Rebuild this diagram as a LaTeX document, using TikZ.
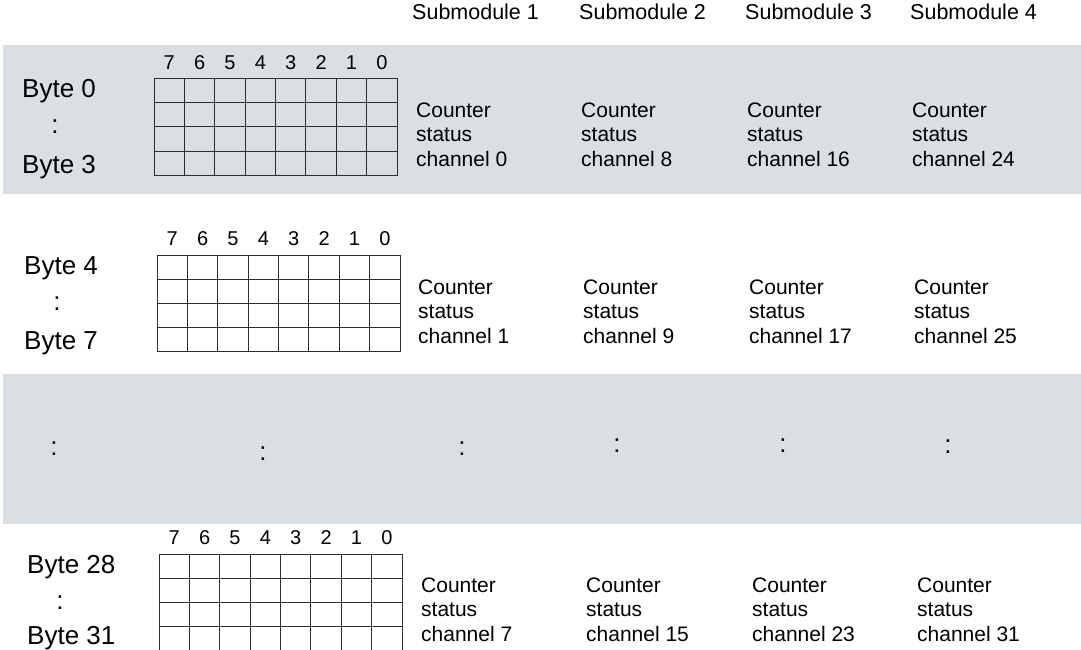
\documentclass[tikz,border=0pt]{standalone}
\usepackage{fontspec}
\setmainfont{Liberation Sans}
\usetikzlibrary{positioning}

\definecolor{bandgray}{RGB}{218,223,227}
\definecolor{gridline}{RGB}{45,45,45}

\begin{document}
\begin{tikzpicture}[
    x=1pt, y=-1pt,
    band/.style={fill=bandgray, draw=none},
    cell/.style={draw=gridline, line width=1pt},
    bytelbl/.style={anchor=base west, inner sep=0pt,
        font=\fontsize{26}{30}\selectfont},
    dotlbl/.style={anchor=base, inner sep=0pt,
        font=\fontsize{26}{30}\selectfont},
    bitlbl/.style={inner sep=0pt, font=\fontsize{20}{22}\selectfont},
    sublbl/.style={anchor=base west, inner sep=0pt,
        font=\fontsize{21.5}{24}\selectfont},
    chanlbl/.style={anchor=base west, inner sep=0pt, align=left,
        font=\fontsize{21}{24.5}\selectfont}
]
\useasboundingbox (0,0) rectangle (1081,650);
\clip (0,0) rectangle (1081,650);

% shaded rows
\fill[band] (3,45) rectangle (1081,194);
\fill[band] (3,374) rectangle (1081,524);

% column heads
\foreach \s/\sx in {1/412, 2/579, 3/745, 4/910}
    \node[sublbl] (sub\s) at (\sx,20) {Submodule \s};

% byte groups: grid, byte labels, counter status
\foreach \g/\gx/\gy/\lx/\ly/\lgap/\fb/\lb/\cx/\cy/\ch in {
    1/154/79/22/98/75/0/3/416/166/0,
    2/157/255/24/274/75/4/7/418/343/1,
    3/159/554/27/573/71/28/31/421/641/7}
{
    \coordinate (grid\g) at (\gx,\gy);
    \draw[cell] (grid\g) rectangle ++(243,96);
    \foreach \i in {1,...,7}
        \draw[cell] ([xshift=\i*30.375pt]grid\g) -- ++(0,96);
    \foreach \j in {1,2,3}
        \draw[cell] ([yshift=-\j*24pt]grid\g) -- ++(243,0);
    \foreach \b [count=\i from 0] in {7,6,5,4,3,2,1,0}
        \node[bitlbl] (bit\g-\b) at ([xshift=(\i+0.5)*30.375pt, yshift=16.5pt]grid\g) {\b};

    \node[bytelbl] (first\g) at (\lx,\ly) {Byte \fb};
    \node[dotlbl] (dots\g) at (\lx+33,\ly+36) {:};
    \node[bytelbl] (last\g) at (\lx,\ly+\lgap) {Byte \lb};

    \foreach \c/\dx in {0/0, 1/165, 2/331, 3/496} {
        \pgfmathtruncatemacro\chn{\ch+8*\c}
        \node[chanlbl] (chan\g-\c) at (\cx+\dx,\cy) {Counter\\status\\channel \chn};
    }
}

% omitted groups
\foreach \d/\dx/\dy in {1/54/455, 2/263/460, 3/462/455, 4/617/452, 5/783/452, 6/948/453}
    \node[dotlbl] (gap\d) at (\dx,\dy) {:};
\end{tikzpicture}
\end{document}
